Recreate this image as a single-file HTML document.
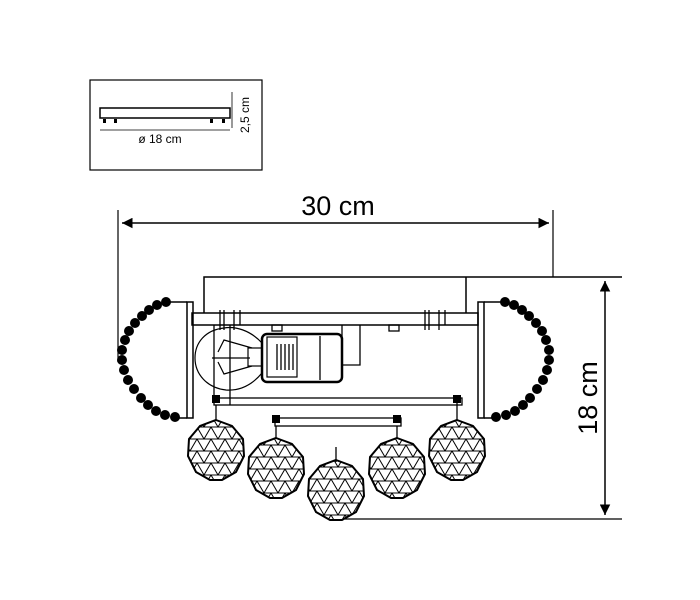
<!DOCTYPE html>
<html><head><meta charset="utf-8"><style>
html,body{margin:0;padding:0;background:#fff}
svg{display:block}
text{font-family:"Liberation Sans",sans-serif;fill:#000}
</style></head><body>
<svg width="700" height="600" viewBox="0 0 700 600" xmlns="http://www.w3.org/2000/svg">
<defs>
<pattern id="tri" width="14" height="12" patternUnits="userSpaceOnUse" x="2" y="1">
<path d="M0 12 L7 0 L14 12 M0 12 H14 M0 0 H14" stroke="#000" stroke-width="1" fill="none"/>
</pattern>
<g id="ball">
<polygon points="0,-30 16,-24 27,-11 28,6 20,22 6,30 -6,30 -20,22 -28,6 -27,-11 -16,-24" fill="url(#tri)" stroke="#000" stroke-width="2"/>
</g>
<marker id="ar" viewBox="0 0 10 10" refX="10" refY="5" markerWidth="9" markerHeight="7" orient="auto-start-reverse"><path d="M0 0 L10 5 L0 10z" fill="#000"/></marker>
</defs>
<!-- inset -->
<rect x="90" y="80" width="172" height="90" fill="none" stroke="#000" stroke-width="1.2"/>
<rect x="100" y="108" width="130" height="10" fill="none" stroke="#000" stroke-width="1.5"/>
<rect x="103" y="119" width="3" height="4" fill="#000"/><rect x="114" y="119" width="3" height="4" fill="#000"/>
<rect x="210" y="119" width="3" height="4" fill="#000"/><rect x="222" y="119" width="3" height="4" fill="#000"/>
<line x1="100" y1="130" x2="230" y2="130" stroke="#000" stroke-width="0.8"/>
<line x1="232" y1="92" x2="232" y2="128" stroke="#000" stroke-width="0.8"/>
<text x="160" y="143" font-size="12" text-anchor="middle">ø 18 cm</text>
<text x="0" y="0" font-size="12" transform="translate(249,115) rotate(-90)" text-anchor="middle">2,5 cm</text>
<!-- dimensions -->
<line x1="118" y1="210" x2="118" y2="362" stroke="#000" stroke-width="1.2"/>
<line x1="553" y1="210" x2="553" y2="277" stroke="#000" stroke-width="1.2"/>
<line x1="122" y1="223" x2="549" y2="223" stroke="#000" stroke-width="1.5" marker-start="url(#ar)" marker-end="url(#ar)"/>
<text x="338" y="215" font-size="27" text-anchor="middle">30 cm</text>
<line x1="605" y1="281" x2="605" y2="515" stroke="#000" stroke-width="1.5" marker-start="url(#ar)" marker-end="url(#ar)"/>
<line x1="345" y1="519" x2="622" y2="519" stroke="#000" stroke-width="1.2"/>
<text font-size="27" text-anchor="middle" transform="translate(597,398) rotate(-90)">18 cm</text>
<!-- top box -->
<path d="M204 313 V277 H622 M466 277 V313" fill="none" stroke="#000" stroke-width="1.5"/>
<!-- main bar -->
<rect x="192" y="313" width="286" height="12" fill="none" stroke="#000" stroke-width="1.5"/>
<!-- plates -->
<rect x="187" y="302" width="6" height="116" fill="none" stroke="#000" stroke-width="1.5"/>
<rect x="478" y="302" width="6" height="116" fill="none" stroke="#000" stroke-width="1.5"/>
<path d="M187 302 H168 M187 418 H176 M484 302 H503 M484 418 H495" stroke="#000" stroke-width="1.5"/>
<!-- beads -->
<g fill="#000">
<circle cx="166" cy="302" r="5"/><circle cx="157" cy="305" r="5"/><circle cx="149" cy="310" r="5"/><circle cx="142" cy="316" r="5"/><circle cx="135" cy="323" r="5"/><circle cx="129" cy="331" r="5"/><circle cx="125" cy="340" r="5"/><circle cx="122" cy="350" r="5"/><circle cx="122" cy="360" r="5"/><circle cx="124" cy="370" r="5"/><circle cx="128" cy="380" r="5"/><circle cx="134" cy="389" r="5"/><circle cx="141" cy="398" r="5"/><circle cx="148" cy="405" r="5"/><circle cx="156" cy="411" r="5"/><circle cx="165" cy="415" r="5"/><circle cx="175" cy="417" r="5"/>
<circle cx="505" cy="302" r="5"/><circle cx="514" cy="305" r="5"/><circle cx="522" cy="310" r="5"/><circle cx="529" cy="316" r="5"/><circle cx="536" cy="323" r="5"/><circle cx="542" cy="331" r="5"/><circle cx="546" cy="340" r="5"/><circle cx="549" cy="350" r="5"/><circle cx="549" cy="360" r="5"/><circle cx="547" cy="370" r="5"/><circle cx="543" cy="380" r="5"/><circle cx="537" cy="389" r="5"/><circle cx="530" cy="398" r="5"/><circle cx="523" cy="405" r="5"/><circle cx="515" cy="411" r="5"/><circle cx="506" cy="415" r="5"/><circle cx="496" cy="417" r="5"/>
</g>
<g fill="none" stroke="#000" stroke-width="1.3">
<path d="M220 310 V330 M224 310 V330 M234 310 V330 M240 310 V325"/>
<path d="M425 310 V330 M429 310 V330 M439 310 V330 M445 310 V325"/>
<rect x="272" y="325" width="10" height="6"/><rect x="389" y="325" width="10" height="6"/>
<path d="M342 325 V365 H360 V325"/>
<path d="M262 343 C250 330 235 326 224 328 C205 330 195 343 195 358 C195 374 207 388 226 390 C240 391 252 385 262 373" stroke-width="1.2"/>
<path d="M218 352 L224 340 L252 348 M218 362 L224 374 L252 366 M212 358 H250" stroke-width="1.2"/>
<rect x="248" y="348" width="14" height="18" stroke-width="1.2"/>
<rect x="262" y="334" width="80" height="48" rx="5" stroke-width="2.5"/>
<rect x="267" y="337" width="30" height="40" stroke-width="1.2"/>
<path d="M277 344 V370 M281 344 V370 M285 344 V370 M289 344 V370 M293 344 V370 M320 336 V380"/>
<path d="M214 325 V398 M230 325 V405"/>
<rect x="214" y="398" width="248" height="7"/>
<rect x="275" y="418" width="126" height="8"/>
<path d="M216 405 V420 M457 398 V420 M276 426 V438 M397 426 V438 M336 447 V462"/>
</g>
<rect x="212" y="395" width="8" height="8" fill="#000"/><rect x="453" y="395" width="8" height="8" fill="#000"/>
<rect x="272" y="415" width="8" height="8" fill="#000"/><rect x="393" y="415" width="8" height="8" fill="#000"/>
<use href="#ball" x="216" y="450"/>
<use href="#ball" x="276" y="468"/>
<use href="#ball" x="336" y="490"/>
<use href="#ball" x="397" y="468"/>
<use href="#ball" x="457" y="450"/>
</svg>
</body></html>
